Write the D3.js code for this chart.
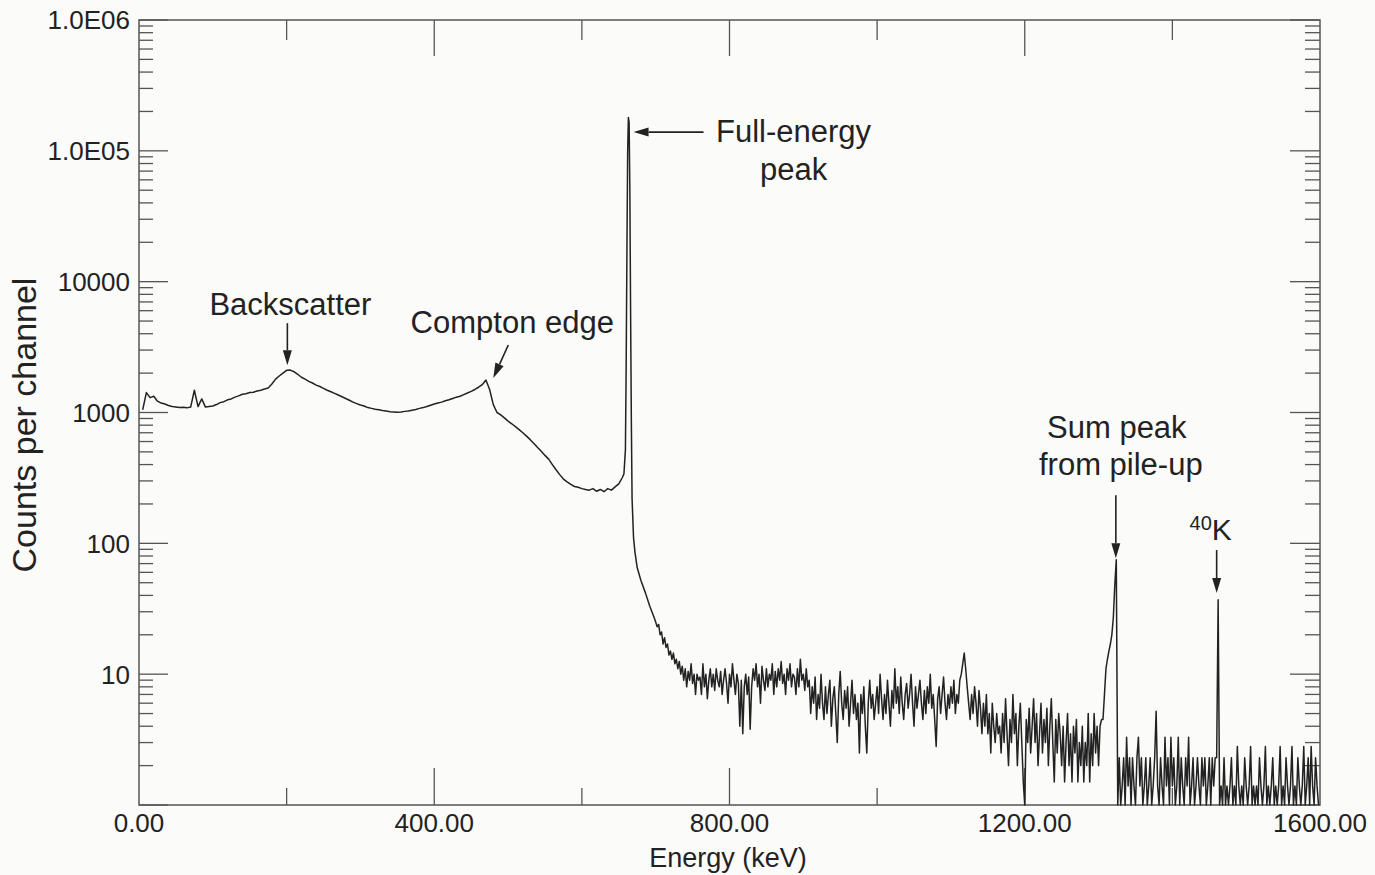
<!DOCTYPE html>
<html>
<head>
<meta charset="utf-8">
<script src="https://cdn.jsdelivr.net/npm/d3@7"></script>
<style>
  body { margin: 0; background: #fbfbf9; }
  svg text { font-family: "Liberation Sans", Arial, Helvetica, sans-serif; fill: #222; }
</style>
</head>
<body>
<div id="chart"></div>
<script>
// Compton continuum, one reading every 5 keV starting at 5 keV
const comptonStart = 5;
const comptonStep = 5;
const comptonCounts = [
  1050, 1420, 1300, 1330, 1220, 1180, 1160, 1130, 1110, 1100, // 5
  1090, 1095, 1085, 1100, 1480, 1110, 1270, 1100, 1110, 1120, // 55
  1150, 1190, 1210, 1250, 1270, 1310, 1340, 1380, 1390, 1420, // 105
  1430, 1460, 1480, 1510, 1540, 1650, 1800, 1900, 2000, 2100, // 155
  2110, 2050, 1960, 1860, 1800, 1730, 1680, 1620, 1580, 1530, // 205
  1480, 1440, 1400, 1360, 1320, 1280, 1240, 1200, 1170, 1140, // 255
  1120, 1090, 1075, 1060, 1050, 1035, 1025, 1015, 1010, 1005, // 305
  1010, 1020, 1025, 1040, 1055, 1075, 1090, 1110, 1135, 1160, // 355
  1180, 1200, 1230, 1250, 1280, 1310, 1330, 1370, 1410, 1450, // 405
  1500, 1560, 1630, 1770, 1500, 1150, 1000, 960, 910, 860,    // 455
  820, 780, 740, 700, 660, 620, 580, 540, 505, 470,           // 505
  440, 400, 365, 335, 310, 295, 282, 272, 268, 262,           // 555
  258, 255, 262, 250, 258, 248, 262, 255, 270, 285,           // 605
  320                                                         // 655
];

// Cs-137 full-energy peak
const photopeakEnergy = [657, 659, 660, 661, 662, 663, 664, 665, 666, 667, 668, 670, 672, 675, 680, 686, 692, 698];
const photopeakCounts = [340, 520, 2200, 16000, 95000, 180000, 165000, 50000, 6000, 900, 220, 110, 85, 65, 52, 42, 33, 27];

// high-energy tail, one reading every 2 keV from 700 keV
const tailStart = 700;
const tailStep = 2;
const tailCounts = [
  25, 23, 24, 20, 21, 17, 19, 16, 17, 14,              // 700
  15, 13, 14.5, 12, 13, 11, 12.5, 10, 11.5, 9,         // 720
  11, 8, 10.5, 9, 12, 8.5, 10, 7, 10, 9,               // 740
  9.5, 7, 12, 8, 10, 6.5, 9, 11, 8, 10,                // 760
  7.5, 11, 9, 8, 10.5, 7, 9, 11, 8.5, 6,               // 780
  10, 8, 12, 9, 7, 10, 8.5, 4, 9, 3.5,                 // 800
  8, 10, 7, 9.5, 3.8, 8, 11, 9, 12, 8,                 // 820
  10, 6, 11.5, 9, 7.5, 11, 8, 10, 9, 12,               // 840
  7, 10.5, 8, 11, 9, 12.5, 8.5, 10, 7, 11,             // 860
  9, 12, 8, 10, 9.5, 7, 11, 8, 13, 9,                  // 880
  10, 7.5, 11, 8, 9, 5, 8, 6, 9.5, 4.5,                // 900
  7, 5.5, 10, 6, 4.5, 8, 5, 7, 9, 4,                   // 920
  6.5, 8, 5, 3, 7, 10.5, 6, 4.5, 7.5, 5.5,             // 940
  8, 4, 6, 9, 5, 7, 4.5, 6, 2.5, 7,                    // 960
  5, 8, 4, 2.5, 6, 9, 5.5, 7, 4.5, 6,                  // 980
  8, 5, 10, 6.5, 4.5, 7, 5, 9, 6, 4,                   // 1000
  7.5, 5.5, 11, 6, 8, 5, 9.5, 6, 4.5, 7,               // 1020
  8.5, 5.5, 7, 10, 6, 4, 8, 5.5, 7, 9,                 // 1040
  6, 4.5, 7.5, 5, 8, 6, 10, 5.5, 7, 4.5,               // 1060
  2.8, 6.5, 8, 5, 7, 9.5, 6, 4.5, 7, 5.5,              // 1080
  8, 6, 9, 5, 7, 6, 9, 10, 12, 14.5,                   // 1100
  11, 8, 6, 4.5, 7, 5, 8, 6, 4, 7.5,                   // 1120
  5.5, 3.5, 6, 4, 7, 3.5, 5, 2.5, 6, 4,                // 1140
  3, 5, 3.5, 4, 2.5, 5, 3, 6.5, 3.5, 2,                // 1160
  4.5, 3, 7, 3.5, 5, 2, 4, 6, 3, 1.5,                  // 1180
  1, 4.5, 3, 5.5, 2.5, 4, 6.5, 3, 5, 2,                // 1200
  3.5, 6, 2.5, 4.5, 3, 5.5, 2, 4, 6.5, 3,              // 1220
  1.5, 4.5, 2.5, 5, 3.5, 2, 4, 1.5, 3, 5,              // 1240
  2, 3.5, 1.5, 4, 2.5, 4.5, 1.5, 3, 2, 4,              // 1260
  1.5, 3, 2, 5, 1.5, 3.5, 2, 5, 2.5, 4,                // 1280
  2, 4, 4.5, 4.5, 7, 11, 13, 15, 17, 20,               // 1300
  27, 48, 75, 1, 2.3, 1, 1.4, 2.3, 1, 3.3,             // 1320
  1.4, 2.3, 1, 2.3, 1.4, 1, 2.3, 3.3, 1.4, 2.3,        // 1340
  1, 1.4, 2.3, 1, 1.4, 2.3, 1, 1.4, 2.3, 5.2,          // 1360
  1.4, 1, 2.3, 1.4, 1, 3.3, 1.4, 2.3, 1, 3.3,          // 1380
  1.4, 2.3, 1, 1.4, 3.3, 1, 2.3, 1.4, 1, 2.3,          // 1400
  1.4, 3.3, 1, 1.4, 2.3, 1, 1.4, 2.3, 1.4, 1,          // 1420
  2.3, 1.4, 2.3, 1, 1.4, 2.3, 1, 2.3, 1.4, 2.3,        // 1440
  2.3, 37, 1, 1.4, 1, 2.3, 1, 1.4, 1, 1.4,             // 1460
  2.3, 1, 1.4, 1, 2.8, 1.4, 1, 1.4, 1, 2.3,            // 1480
  1.4, 1, 1.4, 2.8, 1, 1.4, 1, 1.4, 1, 2.3,            // 1500
  1.4, 1, 1.4, 2.8, 1, 1.4, 1, 1.4, 2.3, 1,            // 1520
  1.4, 1, 1.4, 2.8, 1, 1.4, 1, 2.3, 1.4, 1,            // 1540
  1.4, 2.8, 1, 1.4, 1, 2.3, 1.4, 1, 1.4, 2.8,          // 1560
  1, 1.4, 2.3, 1, 2.8, 1.4, 1, 2.3, 1.4, 1             // 1580
];

const xTickValues = [0, 400, 800, 1200, 1600];
const xTickLabels = ["0.00", "400.00", "800.00", "1200.00", "1600.00"];
const yTickValues = [1e6, 1e5, 1e4, 1e3, 100, 10];
const yTickLabels = ["1.0E06", "1.0E05", "10000", "1000", "100", "10"];

const width = 1375;
const height = 875;
const margin = { left: 139, right: 1320, top: 20, bottom: 805 };
const ink = "#222";
const axisInk = "#555";

const svg = d3.select("#chart").append("svg")
  .attr("width", width)
  .attr("height", height);

const x = d3.scaleLinear().domain([0, 1600]).range([margin.left, margin.right]);
const y = d3.scaleLog().domain([1, 1e6]).range([margin.bottom, margin.top]);

// all points of the spectrum
const spectrum = [
  ...comptonCounts.map((c, i) => ({ e: comptonStart + i * comptonStep, c })),
  ...photopeakCounts.map((c, i) => ({ e: photopeakEnergy[i], c })),
  ...tailCounts.map((c, i) => ({ e: tailStart + i * tailStep, c })),
];

// frame
svg.append("rect")
  .attr("x", margin.left).attr("y", margin.top)
  .attr("width", margin.right - margin.left)
  .attr("height", margin.bottom - margin.top)
  .attr("fill", "none")
  .attr("stroke", axisInk)
  .attr("stroke-width", 1.5);

// log ticks on left and right sides
const yTicks = y.ticks();
const isDecade = (v) => Math.abs(Math.log10(v) - Math.round(Math.log10(v))) < 1e-9;
const ticksG = svg.append("g").attr("stroke", axisInk).attr("stroke-width", 1.3);

ticksG.selectAll(".ytl").data(yTicks)
  .join("line")
  .attr("class", "ytl")
  .attr("x1", margin.left)
  .attr("x2", (d) => margin.left + (isDecade(d) ? 29 : 14))
  .attr("y1", (d) => y(d)).attr("y2", (d) => y(d));

ticksG.selectAll(".ytr").data(yTicks)
  .join("line")
  .attr("class", "ytr")
  .attr("x1", margin.right)
  .attr("x2", (d) => margin.right - (isDecade(d) ? 30 : 15))
  .attr("y1", (d) => y(d)).attr("y2", (d) => y(d));

// energy ticks every 200 keV on top and bottom
const xTicks = d3.range(200, 1600, 200);
ticksG.selectAll(".xtb").data(xTicks)
  .join("line")
  .attr("class", "xtb")
  .attr("x1", (d) => x(d)).attr("x2", (d) => x(d))
  .attr("y1", margin.bottom)
  .attr("y2", (d) => margin.bottom - (d % 400 === 0 ? 37 : 17));

ticksG.selectAll(".xtt").data(xTicks)
  .join("line")
  .attr("class", "xtt")
  .attr("x1", (d) => x(d)).attr("x2", (d) => x(d))
  .attr("y1", margin.top)
  .attr("y2", (d) => margin.top + (d % 400 === 0 ? 36 : 20));

// tick labels
svg.append("g").selectAll("text").data(yTickValues)
  .join("text")
  .attr("x", margin.left - 9)
  .attr("y", (d) => y(d))
  .attr("dy", "0.36em")
  .attr("text-anchor", "end")
  .style("font-size", "26px")
  .text((d, i) => yTickLabels[i]);

svg.append("g").selectAll("text").data(xTickValues)
  .join("text")
  .attr("x", (d) => x(d))
  .attr("y", 832)
  .attr("text-anchor", "middle")
  .style("font-size", "26px")
  .text((d, i) => xTickLabels[i]);

// axis titles
svg.append("text")
  .attr("x", 728).attr("y", 867)
  .attr("text-anchor", "middle")
  .style("font-size", "27px")
  .text("Energy (keV)");

svg.append("text")
  .attr("transform", "translate(36,425) rotate(-90)")
  .attr("text-anchor", "middle")
  .style("font-size", "34px")
  .text("Counts per channel");

// spectrum line
const line = d3.line()
  .x((d) => x(d.e))
  .y((d) => y(Math.max(1, d.c)));

svg.append("path")
  .datum(spectrum)
  .attr("d", line)
  .attr("fill", "none")
  .attr("stroke", ink)
  .attr("stroke-width", 1.5)
  .attr("stroke-linejoin", "round");

// annotations with arrows
const ann = svg.append("g");

function arrow(x1, y1, x2, y2) {
  const a = Math.atan2(y2 - y1, x2 - x1);
  const len = 15, half = 4.5;
  const bx = x2 - len * Math.cos(a), by = y2 - len * Math.sin(a);
  ann.append("line")
    .attr("x1", x1).attr("y1", y1)
    .attr("x2", bx).attr("y2", by)
    .attr("stroke", ink).attr("stroke-width", 1.6);
  ann.append("polygon")
    .attr("points", [
      [x2, y2],
      [bx + half * Math.sin(a), by - half * Math.cos(a)],
      [bx - half * Math.sin(a), by + half * Math.cos(a)],
    ].map((p) => p.join(",")).join(" "))
    .attr("fill", ink);
}

function label(tx, ty, str, size) {
  return ann.append("text")
    .attr("x", tx).attr("y", ty)
    .attr("text-anchor", "middle")
    .style("font-size", (size || 31) + "px")
    .text(str);
}

// full-energy peak
let px = x(670), py = y(1.39e5);
arrow(px + 70, py, px, py);
label(px + 160, py + 10, "Full-energy");
label(px + 160, py + 48, "peak");

// backscatter
px = x(201); py = y(2300);
arrow(px, py - 42, px, py);
label(px + 3, py - 50, "Backscatter");

// compton edge
px = x(480); py = y(1836);
arrow(px + 15, py - 33, px, py);
label(px + 19, py - 45, "Compton edge");

// sum peak
px = x(1323.4); py = y(77);
arrow(px, py - 63, px, py);
label(px + 1, py - 120, "Sum peak");
label(px + 5, py - 83, "from pile-up");

// potassium-40
px = x(1460); py = y(41.7);
arrow(px, py - 43, px, py);
const k = ann.append("text")
  .attr("x", px - 6).attr("y", py - 53)
  .attr("text-anchor", "middle")
  .style("font-size", "30px");
k.append("tspan").attr("dy", "-10").style("font-size", "20px").text("40");
k.append("tspan").attr("dy", "10").text("K");
</script>
</body>
</html>
